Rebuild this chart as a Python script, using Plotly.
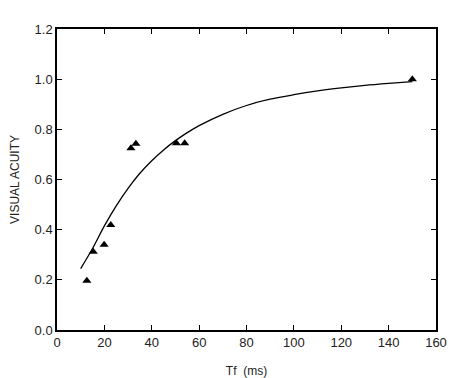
import plotly.graph_objects as go

# Measured data (triangles)
tf_ms = [12.6, 15.3, 19.9, 22.7, 31.2, 33.3, 50.4, 53.9, 150.0]
acuity = [0.196, 0.312, 0.34, 0.419, 0.725, 0.743, 0.745, 0.745, 1.0]

# Fitted curve
fit_tf = [10, 15, 20, 25, 30, 35, 40, 45, 50, 55, 60, 70, 80, 90, 100, 110, 120, 130, 140, 150]
fit_acuity = [0.245, 0.325, 0.415, 0.495, 0.565, 0.625, 0.675, 0.718, 0.755, 0.787, 0.815,
              0.86, 0.895, 0.92, 0.938, 0.953, 0.965, 0.975, 0.983, 0.99]

x_ticks = [0, 20, 40, 60, 80, 100, 120, 140, 160]
y_ticks = [0.0, 0.2, 0.4, 0.6, 0.8, 1.0, 1.2]

fig = go.Figure()
fig.add_trace(go.Scatter(x=fit_tf, y=fit_acuity, mode="lines",
                         line=dict(color="black", width=1.3, shape="spline"),
                         showlegend=False, hoverinfo="skip"))
fig.add_trace(go.Scatter(x=tf_ms, y=acuity, mode="markers",
                         marker=dict(symbol="triangle-up", size=8, color="black"),
                         showlegend=False))

fam = "Liberation Sans, Arial, sans-serif"
tickfont = dict(family=fam, size=13, color="#222")
titlefont = dict(family=fam, size=12, color="#222")

fig.update_layout(
    width=459, height=370,
    margin=dict(l=49, r=31, t=21, b=48, autoexpand=False),
    paper_bgcolor="white", plot_bgcolor="white",
    font=tickfont,
    xaxis=dict(range=[0, 160], tickvals=x_ticks, ticktext=[str(v) for v in x_ticks],
               ticks="inside", ticklen=5, tickwidth=1, tickcolor="black", tickfont=tickfont,
               showline=True, linecolor="black", linewidth=1.5, mirror="ticks",
               showgrid=False, zeroline=False, automargin=False,
               title=dict(text="Tf  (ms)", font=titlefont, standoff=17)),
    yaxis=dict(range=[0, 1.2], tickvals=y_ticks, ticktext=[f"{v:.1f}" for v in y_ticks],
               ticks="inside", ticklen=5, tickwidth=1, tickcolor="black", tickfont=tickfont,
               showline=True, linecolor="black", linewidth=1.5, mirror="ticks",
               showgrid=False, zeroline=False, automargin=False,
               title=dict(text="VISUAL ACUITY", font=titlefont, standoff=14)),
)

fig.write_html("out.html")
